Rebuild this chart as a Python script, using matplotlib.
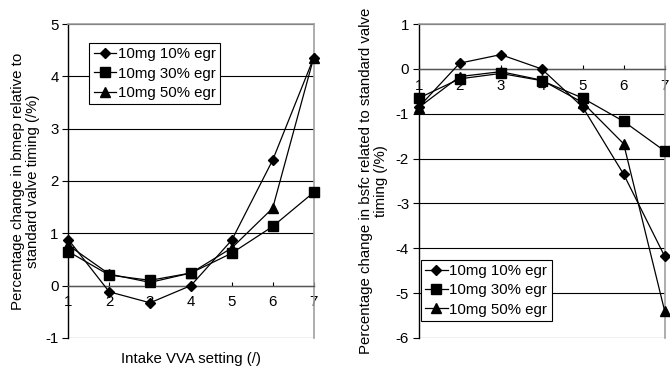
import matplotlib
matplotlib.use('Agg')
from matplotlib import pyplot as plt

plt.rcParams['font.family'] = ['Liberation Sans', 'DejaVu Sans']
plt.rcParams['font.size'] = 10.8
plt.rcParams['axes.unicode_minus'] = False

vva = [1, 2, 3, 4, 5, 6, 7]
series_names = ['10mg 10% egr', '10mg 30% egr', '10mg 50% egr']

# bmep change (%)
bmep_10 = [0.88, -0.12, -0.33, 0.0, 0.87, 2.40, 4.35]
bmep_30 = [0.65, 0.20, 0.10, 0.24, 0.62, 1.13, 1.78]
bmep_50 = [0.77, 0.22, 0.06, 0.24, 0.72, 1.48, 4.35]

# bsfc change (%)
bsfc_10 = [-0.85, 0.13, 0.32, 0.0, -0.85, -2.35, -4.18]
bsfc_30 = [-0.65, -0.22, -0.10, -0.26, -0.65, -1.17, -1.83]
bsfc_50 = [-0.86, -0.17, -0.06, -0.25, -0.75, -1.67, -5.40]

markers = ['D', 's', '^']
msizes = [5.5, 6.5, 6.5]


def setup(ax, ymin, ymax):
    ax.set_xlim(1, 7)
    ax.set_ylim(ymin, ymax)
    ax.set_xticks(vva)
    ax.set_yticks(range(ymin, ymax + 1))
    ax.yaxis.grid(True, color='black', lw=0.8)
    ax.spines['bottom'].set_position(('data', 0))
    ax.spines['bottom'].set_color('#555555')
    ax.spines['bottom'].set_linewidth(1.0)
    ax.spines['top'].set_color('#a0a0a0')
    ax.spines['top'].set_linewidth(1.2)
    ax.spines['right'].set_color('#a0a0a0')
    ax.spines['right'].set_linewidth(1.2)
    ax.spines['left'].set_linewidth(1.0)
    ax.tick_params(axis='x', direction='in', length=3, pad=7, width=0.8)
    ax.tick_params(axis='y', direction='out', length=4, pad=3, width=0.8)
    for t in ax.get_xticklabels():
        t.set_clip_on(False)


def draw(ax, data):
    for vals, m, ms, name in zip(data, markers, msizes, series_names):
        ax.plot(vva, vals, color='black', lw=0.9, marker=m, ms=ms,
                mfc='black', mec='black', clip_on=False, zorder=3, label=name)


def add_legend(ax, loc, anchor):
    leg = ax.legend(loc=loc, bbox_to_anchor=anchor, frameon=True,
                    fancybox=False, edgecolor='black', framealpha=1,
                    handlelength=1.5, handletextpad=0.1, labelspacing=0.35,
                    borderpad=0.3, borderaxespad=0)
    leg.get_frame().set_linewidth(0.8)


fig = plt.figure(figsize=(6.7, 3.66), dpi=100)

ax1 = fig.add_axes([0.102, 0.077, 0.366, 0.857])
setup(ax1, -1, 5)
draw(ax1, [bmep_10, bmep_30, bmep_50])
ax1.set_ylabel('Percentage change in bmep relative to\nstandard valve timing (/%)',
               linespacing=1.1)
ax1.yaxis.set_label_coords(-0.115, 0.5)
ax1.set_xlabel('Intake VVA setting (/)')
ax1.xaxis.set_label_coords(0.5, -0.045)
add_legend(ax1, 'upper left', (0.085, 0.94))

ax2 = fig.add_axes([0.625, 0.077, 0.367, 0.857])
setup(ax2, -6, 1)
draw(ax2, [bsfc_10, bsfc_30, bsfc_50])
ax2.set_ylabel('Percentage change in bsfc related to standard valve\ntiming (/%)',
               linespacing=1.1)
ax2.yaxis.set_label_coords(-0.126, 0.5)
add_legend(ax2, 'lower left', (0.008, 0.053))

fig.savefig('out.png', dpi=100)
